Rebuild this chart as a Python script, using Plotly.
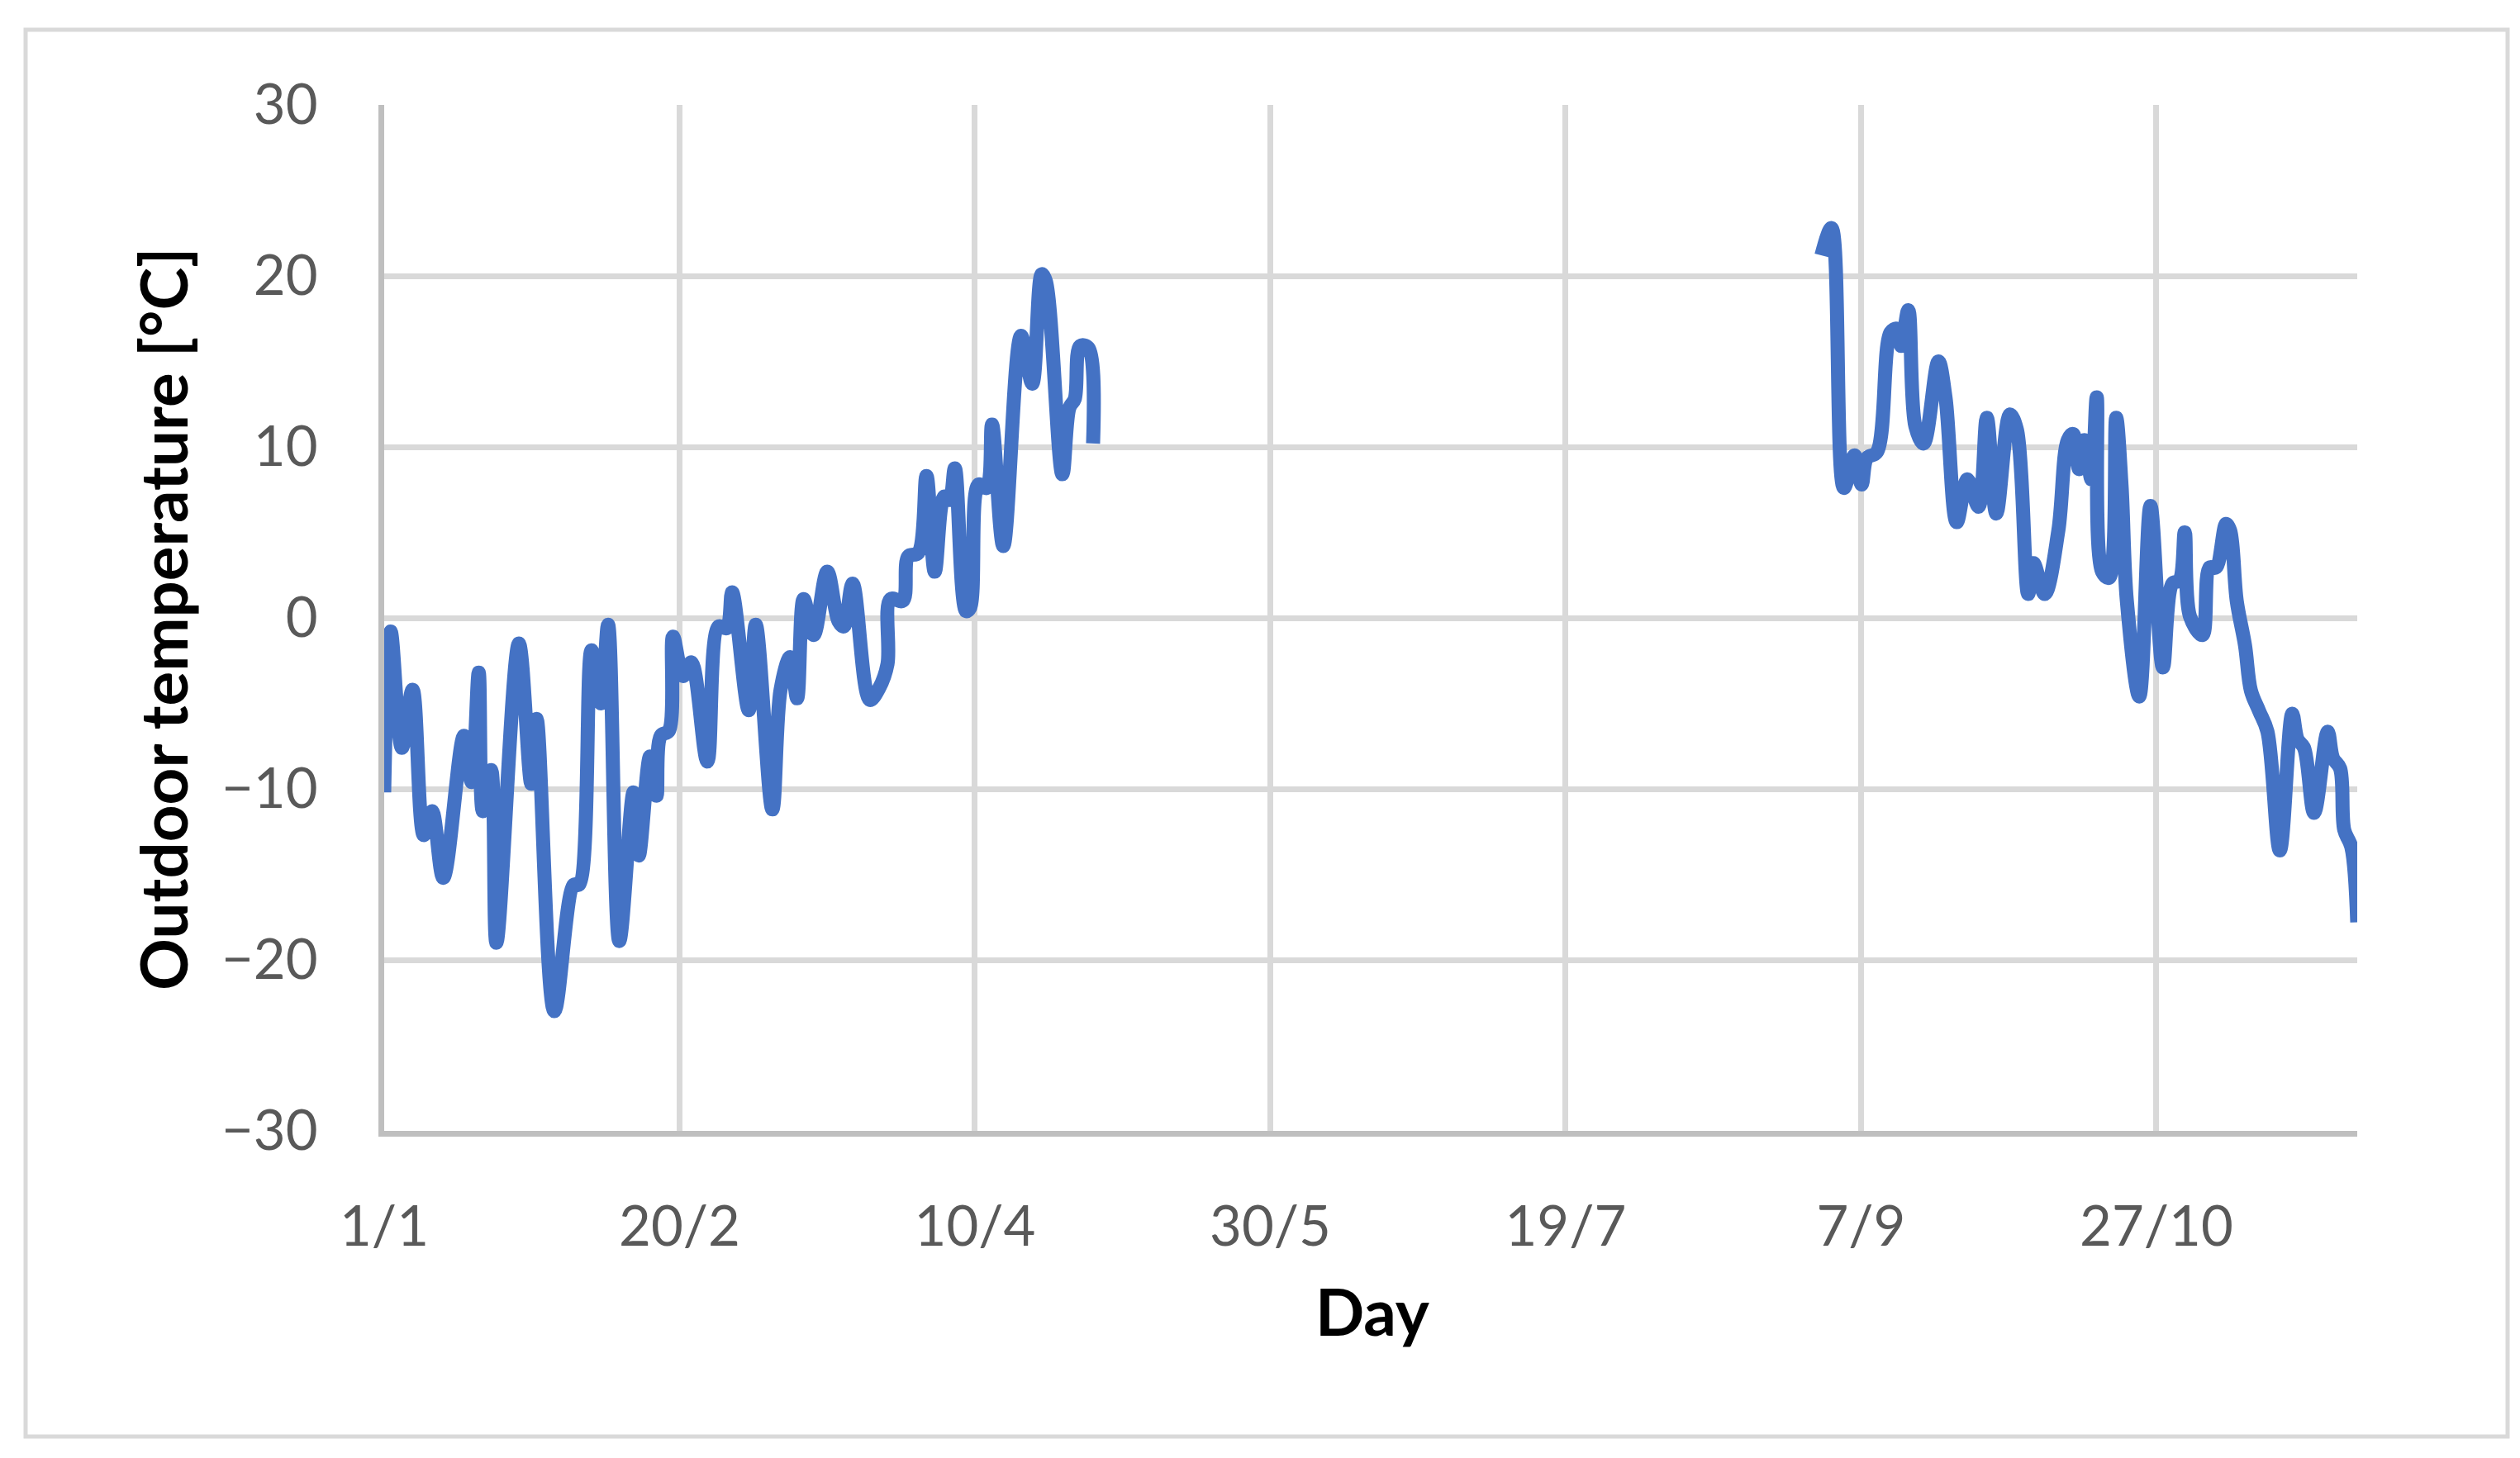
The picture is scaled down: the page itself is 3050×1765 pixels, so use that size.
import plotly.graph_objects as go

# Segment 1: Jan - Apr (day of year, temperature °C)
days_1 = [1, 2.1, 4, 5.8, 7.7, 9.1, 11, 14.5, 15.8, 17, 17.7, 19.1, 20, 23.8, 25.9, 26.8,
          29.8, 33.1, 34, 36.1, 37.7, 38.9, 40.8, 43.2, 44.1, 46, 47.1, 47.8, 49.2, 49.9,
          51.6, 53, 55.7, 57.6, 59, 59.9, 62.7, 63.9, 66.7, 68.1, 69.7, 70.9, 72, 73.7,
          76, 77.9, 78.8, 80.3, 83.2, 84.8, 86.2, 86.7, 88.8, 89.7, 91.4, 92.8, 94.2,
          95.8, 96.7, 97.6, 99.5, 100.2, 101.6, 103, 103.9, 105.8, 108.8, 110.7, 112.3,
          113, 115.8, 117, 117.9, 118.8, 120.2, 121]
temps_1 = [-10.2, -0.8, -7.6, -4.2, -12.7, -11.3, -15.2, -6.9, -9.6, -3.2, -11.3, -8.9, -19.0,
           -1.5, -9.7, -5.9, -23.0, -15.6, -15.6, -1.9, -5.0, -0.4, -18.9, -10.2, -13.9,
           -8.1, -10.4, -6.9, -6.6, -1.1, -3.4, -2.6, -8.4, -0.5, -0.6, 1.5, -5.4, -0.4,
           -11.2, -4.2, -2.3, -4.7, 1.1, -1.0, 2.7, -0.2, -0.5, 2.0, -4.8, -4.1, -2.7,
           1.1, 1.0, 3.6, 3.8, 8.3, 2.7, 7.1, 6.9, 8.75, 0.4, 0.6, 7.8, 7.6, 11.3, 4.2,
           16.5, 13.7, 20.1, 19.7, 8.4, 12.3, 12.8, 15.9, 15.8, 10.2]

# Segment 2: Sep - Nov
days_2 = [244.3, 246, 248.1, 249.9, 251.1, 252, 253.7, 256, 257.1, 257.8, 259, 260.2, 261.6,
          264.1, 265.3, 267.2, 269, 270.9, 272.3, 273.9, 276.2, 277.4, 279.3, 280.2, 282.1,
          284.4, 286, 286.9, 287.9, 288.8, 290, 290.9, 291.8, 293, 294.2, 295.1, 296,
          298.1, 300, 302.1, 303.7, 304.9, 305.8, 306.7, 308.8, 310, 311.1, 312.8, 313.5,
          314.6, 316, 317, 318.4, 319.8, 321.9, 324, 324.9, 326, 327.7, 330, 330.9, 332.1,
          332.8, 334, 335]
temps_2 = [21.2, 22.8, 7.6, 9.5, 7.8, 9.35, 9.7, 16.7, 16.9, 15.9, 18.0, 11.2, 10.2, 15.0,
           12.9, 5.6, 8.1, 6.5, 11.7, 6.1, 11.9, 11.0, 1.4, 3.2, 1.4, 5.1, 10.4, 10.75, 8.7,
           10.4, 8.1, 12.9, 2.7, 2.35, 11.7, 7.75, 1.0, -4.6, 6.55, -2.9, 2.0, 2.2, 5.0,
           0.07, -1.0, 2.95, 2.95, 5.5, 5.1, 1.0, -1.6, -4.25, -5.45, -6.65, -13.6, -5.6,
           -7.1, -7.6, -11.4, -6.65, -8.2, -8.8, -12.4, -13.4, -17.8]

tick_days = [1, 51, 101, 151, 201, 251, 301]
tick_labels = ["1/1", "20/2", "10/4", "30/5", "19/7", "7/9", "27/10"]
y_ticks = [-30, -20, -10, 0, 10, 20, 30]

LINE = "#4472C4"
FONT = "Lato"

fig = go.Figure()
for xs, ys in ((days_1, temps_1), (days_2, temps_2)):
    fig.add_trace(go.Scatter(x=xs, y=ys, mode="lines",
                             line=dict(color=LINE, width=17, shape="spline", smoothing=1.0),
                             showlegend=False, hoverinfo="skip"))

W, H = 3050, 1765
L, R, T, B = 457, 205, 119, 404
pw, ph = W - L - R, H - T - B

def px(x):
    return (x - L) / pw

def py(y):
    return (H - B - y) / ph

fig.update_layout(
    width=W, height=H,
    margin=dict(l=L, r=R, t=T, b=B, autoexpand=False),
    paper_bgcolor="white", plot_bgcolor="white",
    font=dict(family=FONT, size=67, color="#595959"),
    xaxis=dict(range=[1, 335], tickvals=tick_days, ticktext=tick_labels,
               showgrid=True, gridcolor="#d9d9d9", gridwidth=7,
               showline=True, linecolor="#bfbfbf", linewidth=7,
               zeroline=False, ticks="", ticklabelstandoff=52,
               tickfont=dict(family=FONT, size=67, color="#595959")),
    yaxis=dict(range=[-30, 30], tickvals=y_ticks,
               showgrid=True, gridcolor="#d9d9d9", gridwidth=7,
               showline=True, linecolor="#bfbfbf", linewidth=7,
               zeroline=False, ticks="", ticklabelstandoff=60,
               tickfont=dict(family=FONT, size=67, color="#595959")),
    shapes=[dict(type="rect", xref="paper", yref="paper",
                 x0=px(23), x1=px(3027), y0=py(1731), y1=py(28),
                 line=dict(color="#d9d9d9", width=5), fillcolor="rgba(0,0,0,0)",
                 layer="below")],
    annotations=[
        dict(text="<b>Outdoor temperature [°C]</b>", xref="paper", yref="paper",
             x=px(189), y=py(741), textangle=-90, showarrow=False,
             xanchor="center", yanchor="middle",
             font=dict(family=FONT, size=78, color="black")),
        dict(text="<b>Day</b>", xref="paper", yref="paper",
             x=px(1653), y=py(1579), showarrow=False,
             xanchor="center", yanchor="middle",
             font=dict(family=FONT, size=78, color="black")),
    ],
)

fig.write_html("out.html")
